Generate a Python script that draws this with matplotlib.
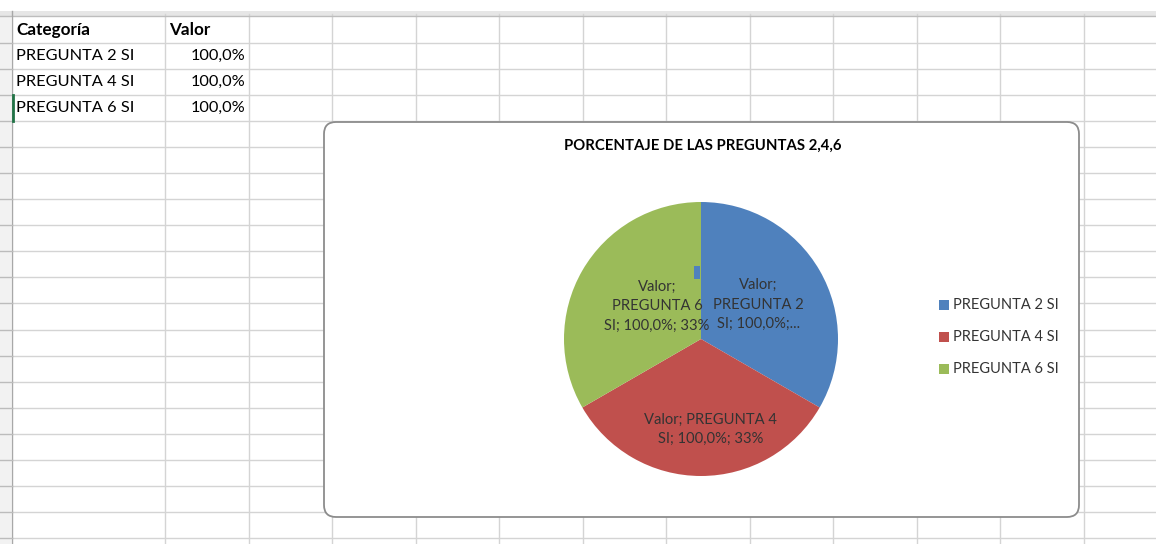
import matplotlib
matplotlib.use("Agg")
import matplotlib.pyplot as plt
from matplotlib.patches import FancyBboxPatch, Rectangle

# data
categories = ["PREGUNTA 2 SI", "PREGUNTA 4 SI", "PREGUNTA 6 SI"]
values = [1.0, 1.0, 1.0]
value_labels = ["100,0%", "100,0%", "100,0%"]
header = ["Categoría", "Valor"]
slice_labels = ["Valor;\nPREGUNTA 2\nSI; 100,0%;...",
                "Valor; PREGUNTA 4\nSI; 100,0%; 33%",
                "Valor;\nPREGUNTA 6\nSI; 100,0%; 33%"]
title = "PORCENTAJE DE LAS PREGUNTAS 2,4,6"
colors = ["#4F81BD", "#C0504D", "#9BBB59"]

plt.rcParams["font.family"] = ["Lato", "DejaVu Sans"]

W, H = 1156, 544
fig = plt.figure(figsize=(W / 100, H / 100), dpi=100)

# sheet background in pixel coords
bg = fig.add_axes([0, 0, 1, 1])
bg.set_xlim(0, W)
bg.set_ylim(H, 0)
bg.axis("off")

grid_c = "#d4d4d4"
col_x = [165, 248.5, 332, 415.5, 499, 582.5, 666, 749.5, 833, 916.5, 1000, 1083.5]
row_h = 26.05
row_y = [16.9 + row_h * k for k in range(21)]
for x in col_x:
    bg.plot([x, x], [14, H], color=grid_c, lw=1)
for y in row_y[1:]:
    bg.plot([12, W], [y, y], color=grid_c, lw=1)
# header strips
bg.add_patch(Rectangle((0, 11), W, 5, color="#e6e6e6", lw=0))
bg.plot([0, W], [16, 16], color="#bdbdbd", lw=1)
bg.add_patch(Rectangle((0, 16), 11, H, color="#f2f2f2", lw=0))
bg.plot([12, 12], [11, H], color="#a8a8a8", lw=1)
for y in row_y[1:]:
    bg.plot([0, 12], [y, y], color="#bcbcbc", lw=1)
# active cell marker
bg.plot([13, 13], [row_y[3], row_y[4]], color="#217346", lw=2)

# table
bg.text(16, row_y[0] + 13, header[0], fontsize=12.3, fontweight="bold", va="center")
bg.text(169, row_y[0] + 13, header[1], fontsize=12.3, fontweight="bold", va="center")
for i, (c, v) in enumerate(zip(categories, value_labels)):
    yc = row_y[i + 1] + 13
    bg.text(16, yc, c, fontsize=11.8, va="center")
    bg.text(245, yc, v, fontsize=11.8, va="center", ha="right")

# chart box
bg.add_patch(FancyBboxPatch((336, 134), 731, 371,
                            boxstyle="round,pad=12", fc="white",
                            ec="#8c8c8c", lw=1.3, zorder=3))
bg.text(703, 146, title, fontsize=10.7, fontweight="bold",
        ha="center", va="center", zorder=4)

# pie
cx, cy, r = 701, 339, 137
pax = fig.add_axes([(cx - r) / W, (H - cy - r) / H, 2 * r / W, 2 * r / H])
pax.set_zorder(5)
wedges, _ = pax.pie(values, colors=colors, startangle=90, counterclock=False,
                    wedgeprops=dict(linewidth=0))
pax.set_xlim(-1, 1)
pax.set_ylim(-1, 1)
pax.set_aspect("equal")
pax.axis("off")

label_pos = [(0.42, 0.25), (0.07, -0.66), (-0.32, 0.24)]
for (lx, ly), txt in zip(label_pos, slice_labels):
    pax.text(lx, ly, txt, ha="center", va="center", fontsize=10.6,
             color="#333333", linespacing=1.5)
pax.add_patch(Rectangle((-0.05, 0.44), 0.045, 0.09, color=colors[0], lw=0))

# legend
leg_y = [305, 337, 369]
for c, col, y in zip(categories, colors, leg_y):
    bg.add_patch(Rectangle((939, y - 5), 10, 10, color=col, lw=0, zorder=6))
    bg.text(953, y, c, fontsize=10.5, va="center", color="#333333", zorder=6)

fig.savefig("out.png", dpi=100)
